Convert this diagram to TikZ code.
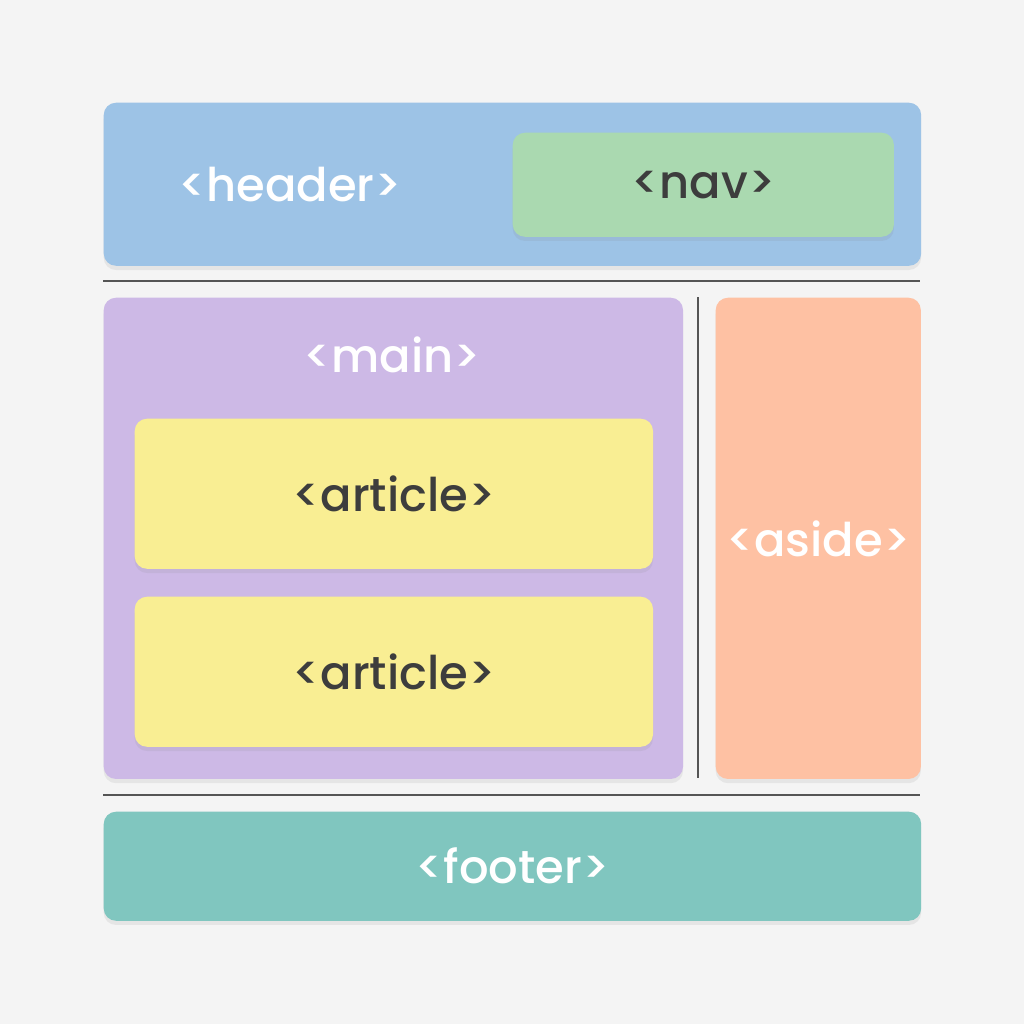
\documentclass[tikz,border=0pt]{standalone}
\usepackage{fontspec}
\setmainfont{Poppins}
\newfontfamily\tagfont{Poppins Medium}
\usetikzlibrary{positioning, shadows}

\definecolor{pagebg}{HTML}{F4F4F4}
\definecolor{headerblue}{HTML}{9DC3E6}
\definecolor{navgreen}{HTML}{AAD9B0}
\definecolor{mainpurple}{HTML}{CDB9E6}
\definecolor{articleyellow}{HTML}{F9EE93}
\definecolor{asidepeach}{HTML}{FEC1A3}
\definecolor{footerteal}{HTML}{80C6BF}
\definecolor{rulegray}{HTML}{555555}
\definecolor{darktext}{HTML}{3D3D3D}

\begin{document}
\begin{tikzpicture}[x=0.01cm, y=-0.01cm, font=\tagfont\fontsize{13.2}{16}\selectfont]
  \tikzstyle{block}=[rounded corners=3.5pt, inner sep=0pt, anchor=north west,
    drop shadow={opacity=0.12, shadow xshift=0pt, shadow yshift=-1.2pt}]
  \tikzstyle{lighttag}=[text=white]
  \tikzstyle{darktag}=[text=darktext]
  \tikzstyle{divider}=[draw=rulegray, line width=0.6pt]

  % page
  \fill[pagebg] (0,0) rectangle (1024,1024);
  \useasboundingbox (0,0) rectangle (1024,1024);

  % header row
  \node[block, fill=headerblue, minimum width=8.17cm, minimum height=1.63cm] (header) at (103,102) {};
  \node[block, fill=navgreen, minimum width=3.81cm, minimum height=1.04cm] (nav) at (512,132) {};
  \node[lighttag] (header_lbl) at (290,185) {<header>};
  \node[darktag] (nav_lbl) at (nav.center) {<nav>};

  % dividers
  \coordinate (rule_top_l) at (103,281);
  \coordinate (rule_top_r) at (920,281);
  \coordinate (rule_mid_t) at (698,297);
  \coordinate (rule_mid_b) at (698,778);
  \coordinate (rule_bot_l) at (103,795);
  \coordinate (rule_bot_r) at (920,795);
  \draw[divider] (rule_top_l) -- (rule_top_r);
  \draw[divider] (rule_mid_t) -- (rule_mid_b);
  \draw[divider] (rule_bot_l) -- (rule_bot_r);

  % main and articles
  \node[block, fill=mainpurple, minimum width=5.79cm, minimum height=4.81cm] (main) at (103,297) {};
  \node[lighttag] (main_lbl) at (392,355) {<main>};
  \node[block, fill=articleyellow, minimum width=5.18cm, minimum height=1.50cm] (article_a) at (134,418) {};
  \node[block, fill=articleyellow, minimum width=5.18cm, minimum height=1.50cm] (article_b) at (134,596) {};
  \node[darktag] (article_a_lbl) at (article_a.center) {<article>};
  \node[darktag] (article_b_lbl) at (article_b.center) {<article>};

  % aside
  \node[block, fill=asidepeach, minimum width=2.05cm, minimum height=4.81cm] (aside) at (715,297) {};
  \node[lighttag] (aside_lbl) at (aside.center) {<aside>};

  % footer
  \node[block, fill=footerteal, minimum width=8.17cm, minimum height=1.09cm] (footer) at (103,811) {};
  \node[lighttag] (footer_lbl) at (footer.center) {<footer>};

\end{tikzpicture}
\end{document}
